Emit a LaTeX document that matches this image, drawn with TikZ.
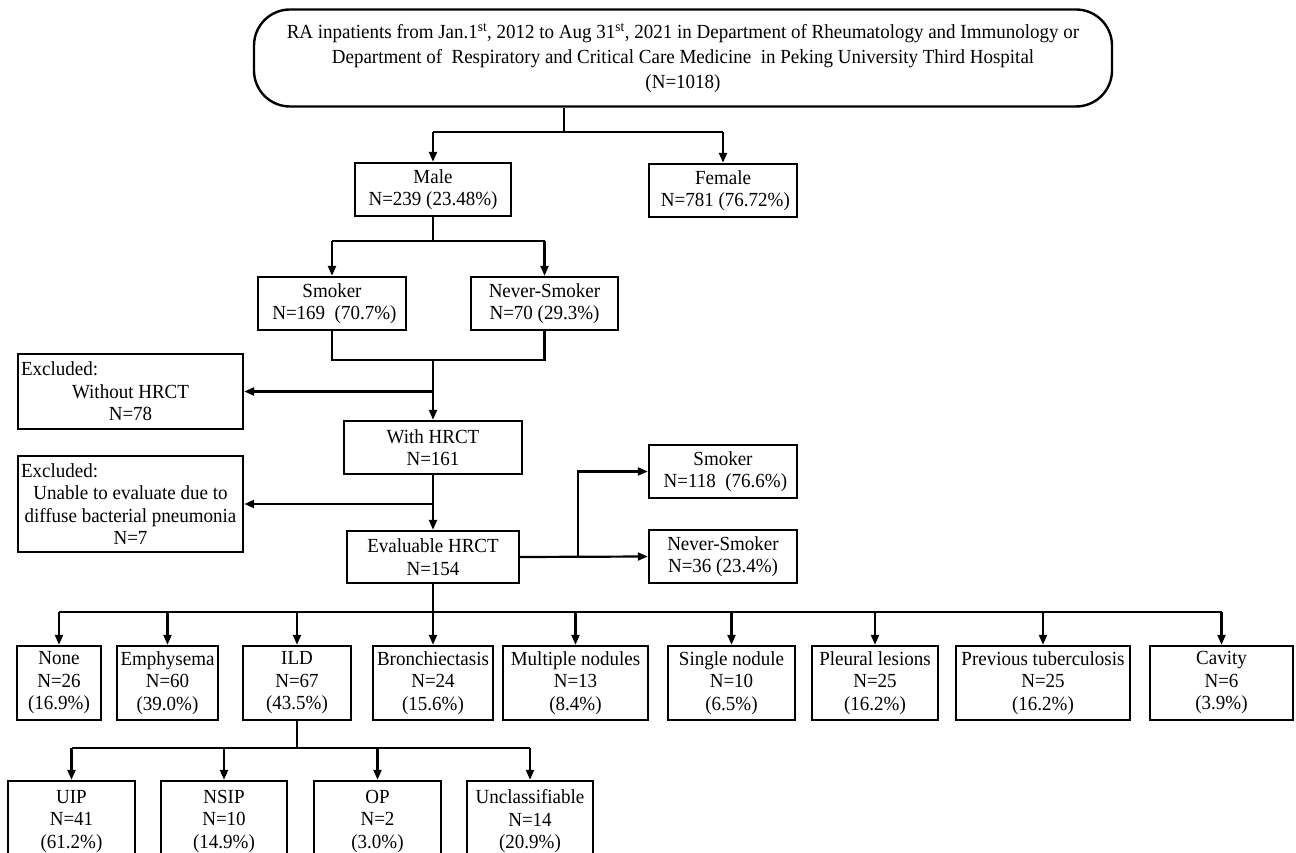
\documentclass[tikz,border=0pt]{standalone}
\usepackage{fontspec}
\setmainfont{Liberation Serif}[FakeStretch=0.95]
\usetikzlibrary{arrows.meta,calc}
\newcommand\bx[6]{\node[box,minimum width={#4-#2},minimum height={#5-#3}] (#1) at ({(#2+#4)/2},{(#3+#5)/2}) {#6};}
\begin{document}
\begin{tikzpicture}[x=1pt,y=-1pt,
  box/.style={draw, line width=2.4pt, inner sep=0pt, align=center, font=\fontsize{20}{22.5}\selectfont},
  conn/.style={line width=2.2pt},
  arr/.style={line width=2.2pt, -{Triangle[length=10pt,width=8pt]}},
]
\useasboundingbox (0,0) rectangle (1296,853);
\fill[white] (0,0) rectangle (1296,853);
\clip (0,0) rectangle (1296,853);
% top box
\node[draw, line width=2.4pt, rounded corners=36pt, inner sep=0pt, align=center,
  font=\fontsize{20}{25}\selectfont, minimum width=858, minimum height=97] (top) at (683,58)
  {RA inpatients from Jan.1\textsuperscript{st}, 2012 to Aug 31\textsuperscript{st}, 2021 in Department of Rheumatology and Immunology or\\
   Department of\ \ Respiratory and Critical Care Medicine\ \ in Peking University Third Hospital\\
   (N=1018)};
% level boxes
\bx{male}{355}{163}{511}{216}{Male\\N=239 (23.48\%)}
\bx{female}{649}{164}{797}{217}{Female\\\ N=781 (76.72\%)}
\bx{smk}{258}{277}{406}{330}{Smoker\\\ N=169\ \ (70.7\%)}
\bx{nsm}{471}{277}{618}{330}{Never-Smoker\\N=70 (29.3\%)}
\bx{ex1}{18}{354}{243}{429}{\makebox[219pt][l]{Excluded:}\\Without HRCT\\N=78}
\bx{withh}{344}{421}{522}{474}{With HRCT\\N=161}
\bx{ex2}{18}{456}{243}{552}{\makebox[219pt][l]{Excluded:}\\Unable to evaluate due to\\diffuse bacterial pneumonia\\N=7}
\bx{evh}{347}{531}{519}{583}{Evaluable HRCT\\N=154}
\bx{sm2}{649}{445}{797}{498}{Smoker\\\ N=118\ \ (76.6\%)}
\bx{ns2}{649}{530}{797}{583}{Never-Smoker\\N=36 (23.4\%)}
% findings row
\bx{none}{17}{646}{101}{720}{None\\N=26\\(16.9\%)}
\bx{emph}{117}{646}{218}{720}{Emphysema\\N=60\\(39.0\%)}
\bx{ild}{243}{646}{351}{720}{ILD\\N=67\\(43.5\%)}
\bx{bron}{373}{646}{493}{720}{Bronchiectasis\\N=24\\(15.6\%)}
\bx{mult}{503}{646}{648}{720}{Multiple nodules\\N=13\\(8.4\%)}
\bx{sing}{668}{646}{795}{720}{Single nodule\\N=10\\(6.5\%)}
\bx{pleu}{812}{646}{938}{720}{Pleural lesions\\N=25\\(16.2\%)}
\bx{prev}{956}{646}{1130}{720}{Previous tuberculosis\\N=25\\(16.2\%)}
\bx{cav}{1150}{646}{1293}{720}{Cavity\\N=6\\(3.9\%)}
% ILD subtypes
\bx{uip}{8}{781}{135}{862}{UIP\\N=41\\(61.2\%)}
\bx{nsip}{161}{781}{287}{862}{NSIP\\N=10\\(14.9\%)}
\bx{op}{314}{781}{441}{862}{OP\\N=2\\(3.0\%)}
\bx{unc}{467}{781}{593}{862}{Unclassifiable\\N=14\\(20.9\%)}
% connectors
\coordinate (s1) at (564,132);
\draw[conn] (s1 |- top.south) -- (s1);
\draw[conn] (male.north |- s1) -- (female.north |- s1);
\draw[arr] (male.north |- s1) -- (male.north);
\draw[arr] (female.north |- s1) -- (female.north);
\coordinate (s2) at (0,241);
\draw[conn] (male.south) -- (male.south |- s2);
\draw[conn] (smk.north |- s2) -- (nsm.north |- s2);
\draw[arr] (smk.north |- s2) -- (smk.north);
\draw[arr] (nsm.north |- s2) -- (nsm.north);
\coordinate (s3) at (0,360);
\draw[conn] (smk.south) -- (smk.south |- s3) -- (nsm.south |- s3) -- (nsm.south);
\draw[arr] (withh.north |- s3) -- (withh.north);
\draw[arr] (ex1.east -| withh.north) -- (ex1.east);
\draw[arr] (withh.south) -- (evh.north);
\draw[arr] (ex2.east -| withh.south) -- (ex2.east);
\coordinate (b) at (578,0);
\draw[arr] (evh.east) -- (ns2.west);
\draw[arr] (evh.east -| b) -- (b |- sm2.west) -- (sm2.west);
\coordinate (h) at (0,612);
\draw[conn] (evh.south) -- (evh.south |- h);
\draw[conn] (none.north |- h) -- (cav.north |- h);
\foreach \n in {none,emph,ild,bron,mult,sing,pleu,prev,cav}
  \draw[arr] (\n.north |- h) -- (\n.north);
\coordinate (h2) at (0,748);
\draw[conn] (ild.south) -- (ild.south |- h2);
\draw[conn] (uip.north |- h2) -- (unc.north |- h2);
\foreach \n in {uip,nsip,op,unc}
  \draw[arr] (\n.north |- h2) -- (\n.north);
\end{tikzpicture}
\end{document}
